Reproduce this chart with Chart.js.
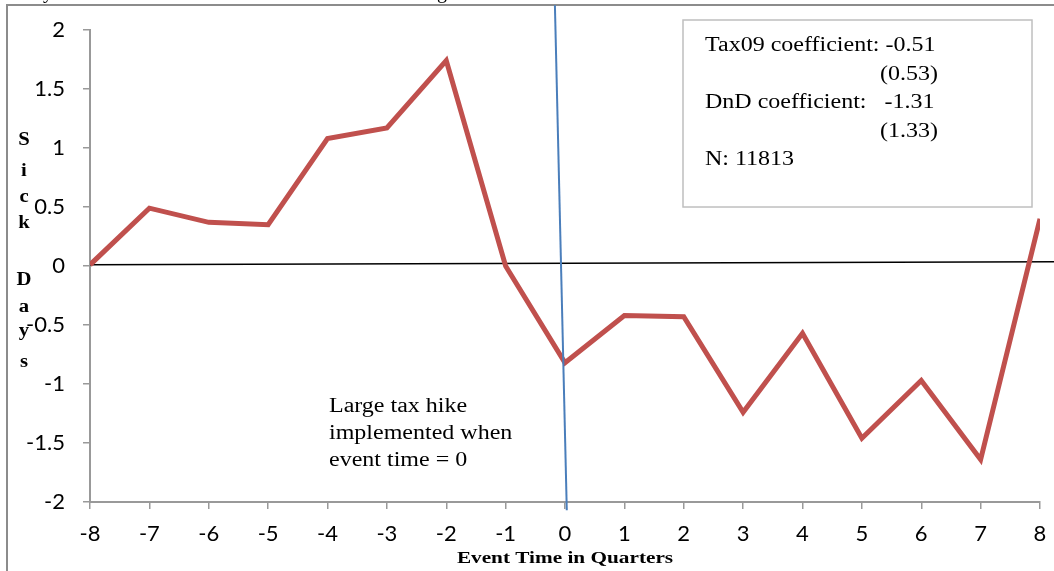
<!DOCTYPE html>
<html lang="en">
<head>
    <meta charset="UTF-8">
    <title>Sick Days by Event Time</title>
    <style>
        html, body { margin: 0; padding: 0; background: #fff; }
        #wrap { width: 1054px; height: 571px; position: relative; }
    </style>
</head>
<body>
    <div id="wrap">
        <canvas id="line-chart" width="1054" height="571"></canvas>
    </div>

    <script src="https://cdn.jsdelivr.net/npm/chart.js"></script>
    <script>
        // event time (quarters) and the estimated effect on sick days
        var quarters = [-8, -7, -6, -5, -4, -3, -2, -1, 0, 1, 2, 3, 4, 5, 6, 7, 8];
        var sickDays = [0.01, 0.49, 0.37, 0.35, 1.08, 1.17, 1.74, 0.0, -0.82, -0.42, -0.43, -1.24, -0.57, -1.46, -0.97, -1.64, 0.40];

        // hand drawn lines in the original (slightly tilted)
        var eventLineX = [-0.17, 0.03];
        var eventLineY = [2.21, -2.07];
        var zeroLineX = [-8, 8.24];
        var zeroLineY = [0.01, 0.035];

        var yTicks = [-2, -1.5, -1, -0.5, 0, 0.5, 1, 1.5, 2];

        var boxLines = [
            ["Tax09 coefficient: -0.51", 0],
            ["(0.53)", 1],
            ["DnD coefficient:   -1.31", 0],
            ["(1.33)", 1],
            ["N: 11813", 0]
        ];
        var noteLines = ["Large tax hike", "implemented when", "event time = 0"];
        var yTitle = "Sick Days";
        var xTitle = "Event Time in Quarters";

        function pts(xs, ys) {
            return xs.map(function (x, i) { return { x: x, y: ys[i] }; });
        }

        // the source picture is stretched sideways a bit
        function wideText(ctx, txt, x, y, sx) {
            ctx.save();
            ctx.translate(x, y);
            ctx.scale(sx, 1);
            ctx.fillText(txt, 0, 0);
            ctx.restore();
        }

        var extras = {
            id: 'extras',
            beforeDraw: function (chart) {
                var ctx = chart.ctx;
                ctx.save();
                ctx.fillStyle = '#fff';
                ctx.fillRect(0, 0, chart.width, chart.height);
                // bits of the caption above, cut off by the crop
                ctx.fillStyle = '#000';
                ctx.font = '20px "Liberation Serif"';
                ctx.textBaseline = 'alphabetic';
                ctx.textAlign = 'center';
                ctx.fillText('y', 48, -2);
                ctx.fillText('g', 442, -2);
                // outer frame, cut off by the picture edge
                ctx.strokeStyle = '#8c8c8c';
                ctx.lineWidth = 2;
                ctx.strokeRect(7, 5, 1200, 800);
                ctx.restore();
            },
            afterDraw: function (chart) {
                var ctx = chart.ctx;
                ctx.save();
                // text box
                ctx.fillStyle = '#fff';
                ctx.fillRect(683, 20, 349, 187);
                ctx.strokeStyle = '#bfbfbf';
                ctx.lineWidth = 1.5;
                ctx.strokeRect(683, 20, 349, 187);
                ctx.fillStyle = '#000';
                ctx.font = '20px "Liberation Serif"';
                ctx.textBaseline = 'middle';
                ctx.textAlign = 'left';
                boxLines.forEach(function (l, i) {
                    wideText(ctx, l[0], l[1] ? 880 : 705, 46 + i * 28.5, 1.2);
                });
                // note
                noteLines.forEach(function (l, i) {
                    wideText(ctx, l, 329, 407 + i * 27, 1.2);
                });
                // axis titles
                ctx.font = 'bold 17px "Liberation Serif"';
                ctx.textAlign = 'center';
                wideText(ctx, xTitle, 565, 559, 1.25);
                ctx.font = 'bold 18px "Liberation Serif"';
                var ys = [140, 171, 197, 223, 0, 280, 307, 331, 362];
                yTitle.split('').forEach(function (c, i) {
                    if (c !== ' ') wideText(ctx, c, 24, ys[i], 1.15);
                });
                ctx.restore();
            }
        };

        const lineChart = new Chart(document.getElementById("line-chart"), {
            type: 'line',
            data: {
                datasets: [{
                    label: 'Sick days',
                    data: pts(quarters, sickDays),
                    borderColor: '#c0504d',
                    borderWidth: 5,
                    pointRadius: 0,
                    tension: 0,
                    order: 1
                }, {
                    label: 'zero',
                    data: pts(zeroLineX, zeroLineY),
                    borderColor: '#000',
                    borderWidth: 1.5,
                    pointRadius: 0,
                    clip: false,
                    order: 3
                }, {
                    label: 'event',
                    data: pts(eventLineX, eventLineY),
                    borderColor: '#4a7ebb',
                    borderWidth: 2,
                    pointRadius: 0,
                    clip: false,
                    order: 0
                }]
            },
            options: {
                responsive: false,
                maintainAspectRatio: false,
                animation: false,
                devicePixelRatio: 1,
                layout: { padding: { left: 0, right: 14, top: 30, bottom: 0 } },
                plugins: {
                    legend: { display: false },
                    tooltip: { enabled: false }
                },
                scales: {
                    x: {
                        type: 'linear',
                        min: -8,
                        max: 8,
                        afterFit: function (s) {
                            s.height = 69;
                            s.paddingLeft = 0;
                            s.paddingRight = 0;
                        },
                        afterBuildTicks: function (s) {
                            s.ticks = quarters.map(function (v) { return { value: v }; });
                        },
                        ticks: {
                            autoSkip: false,
                            maxRotation: 0,
                            padding: 12,
                            color: '#000',
                            font: { family: 'Lato', size: 22 },
                            callback: function (v) { return String(v); }
                        },
                        grid: { drawOnChartArea: false, drawTicks: true, tickLength: 7, color: '#999', lineWidth: 1.5 },
                        border: { display: true, color: '#999', width: 2 }
                    },
                    y: {
                        min: -2,
                        max: 2,
                        afterFit: function (s) {
                            s.width = 90;
                            s.paddingTop = 0;
                            s.paddingBottom = 0;
                        },
                        afterBuildTicks: function (s) {
                            s.ticks = yTicks.map(function (v) { return { value: v }; });
                        },
                        ticks: {
                            padding: 18,
                            color: '#000',
                            font: { family: 'Lato', size: 22 },
                            callback: function (v) { return String(v); }
                        },
                        grid: { drawOnChartArea: false, drawTicks: true, tickLength: 7, color: '#999', lineWidth: 1.5 },
                        border: { display: true, color: '#999', width: 2 }
                    }
                }
            },
            plugins: [extras]
        });
    </script>
</body>
</html>
